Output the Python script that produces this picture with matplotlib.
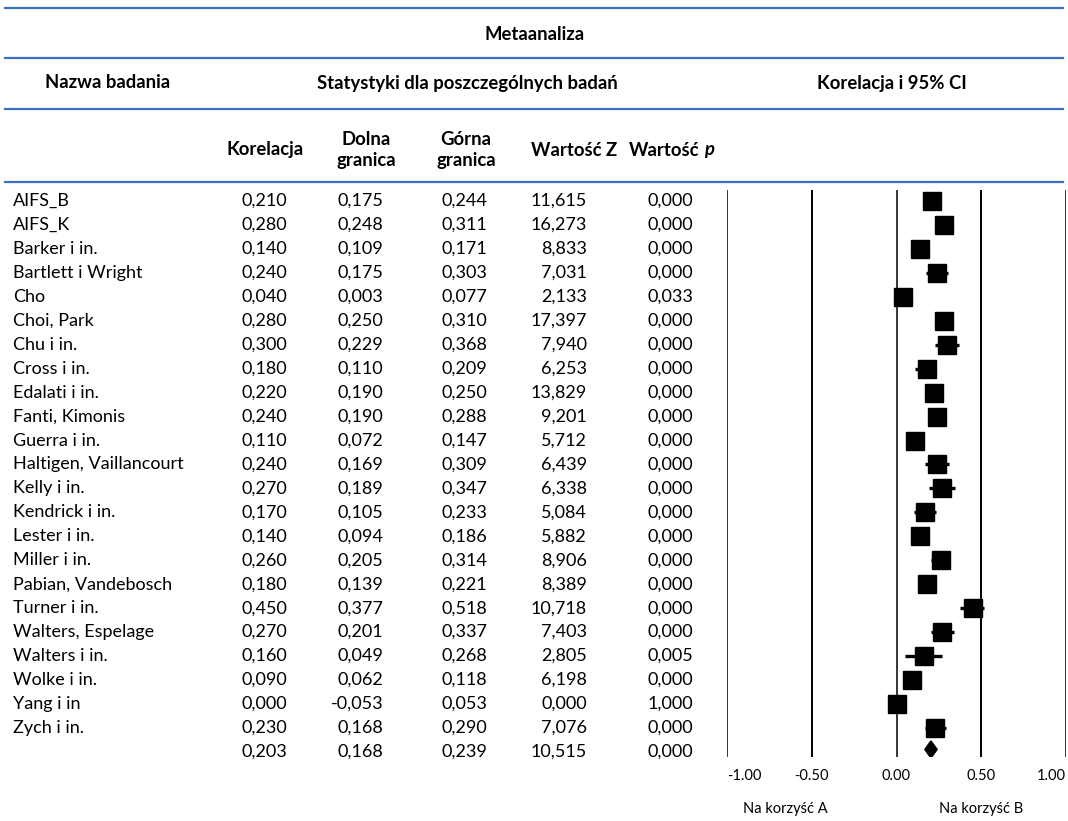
import numpy as np
import matplotlib.pyplot as plt
from matplotlib.lines import Line2D

plt.rcParams['font.family'] = ['Lato', 'DejaVu Sans']

# dane z wykresu
names = ["AIFS_B", "AIFS_K", "Barker i in.", "Bartlett i Wright", "Cho", "Choi, Park",
         "Chu i in.", "Cross i in.", "Edalati i in.", "Fanti, Kimonis", "Guerra i in.",
         "Haltigen, Vaillancourt", "Kelly i in.", "Kendrick i in.", "Lester i in.",
         "Miller i in.", "Pabian, Vandebosch", "Turner i in.", "Walters, Espelage",
         "Walters i in.", "Wolke i in.", "Yang i in", "Zych i in."]
corr = [0.210, 0.280, 0.140, 0.240, 0.040, 0.280, 0.300, 0.180, 0.220, 0.240, 0.110, 0.240,
        0.270, 0.170, 0.140, 0.260, 0.180, 0.450, 0.270, 0.160, 0.090, 0.000, 0.230]
lower = [0.175, 0.248, 0.109, 0.175, 0.003, 0.250, 0.229, 0.110, 0.190, 0.190, 0.072, 0.169,
         0.189, 0.105, 0.094, 0.205, 0.139, 0.377, 0.201, 0.049, 0.062, -0.053, 0.168]
upper = [0.244, 0.311, 0.171, 0.303, 0.077, 0.310, 0.368, 0.209, 0.250, 0.288, 0.147, 0.309,
         0.347, 0.233, 0.186, 0.314, 0.221, 0.518, 0.337, 0.268, 0.118, 0.053, 0.290]
zval = [11.615, 16.273, 8.833, 7.031, 2.133, 17.397, 7.940, 6.253, 13.829, 9.201, 5.712, 6.439,
        6.338, 5.084, 5.882, 8.906, 8.389, 10.718, 7.403, 2.805, 6.198, 0.000, 7.076]
pval = [0.000, 0.000, 0.000, 0.000, 0.033, 0.000, 0.000, 0.000, 0.000, 0.000, 0.000, 0.000,
        0.000, 0.000, 0.000, 0.000, 0.000, 0.000, 0.000, 0.005, 0.000, 1.000, 0.000]
summary = [0.203, 0.168, 0.239, 10.515, 0.000]
ticks = [-1.0, -0.5, 0.0, 0.5, 1.0]

W, H = 1068, 821
fig = plt.figure(figsize=(W / 100, H / 100), dpi=100)

BLUE = "#3d72c2"
FS = 13
HFS = 13.3
ROW0, DY = 201, 23.95


def fx(x):
    return x / W


def fy(y):
    return 1 - y / H


def fmt(v):
    return f"{v:.3f}".replace(".", ",")


# niebieskie linie naglowka
for y in [8, 58, 109, 182]:
    fig.add_artist(Line2D([fx(5), fx(1063)], [fy(y), fy(y)], color=BLUE, lw=1.6))

hdr = dict(ha="center", va="center", fontsize=HFS, fontweight="bold")
fig.text(fx(535), fy(34), "Metaanaliza", **hdr)
fig.text(fx(108), fy(83), "Nazwa badania", **hdr)
fig.text(fx(467), fy(83), "Statystyki dla poszczególnych badań", **hdr)
fig.text(fx(892), fy(83), "Korelacja i 95% CI", **hdr)
fig.text(fx(265), fy(150), "Korelacja", **hdr)
fig.text(fx(366), fy(150), "Dolna\ngranica", linespacing=1.3, **hdr)
fig.text(fx(466), fy(150), "Górna\ngranica", linespacing=1.3, **hdr)
fig.text(fx(574), fy(150), "Wartość Z", **hdr)
wp = fig.text(fx(629), fy(150), "Wartość", ha="left", va="center", fontsize=HFS,
              fontweight="bold")
fig.add_artist(plt.Annotation("p", xy=(1, 0.5), xycoords=wp, xytext=(3.5, 0),
                              textcoords="offset points", ha="left", va="center",
                              fontsize=HFS, fontweight="bold", fontstyle="italic"))

# tabela: os w pikselach (x) i wierszach (y)
tab = fig.add_axes([0, 0, 1, 1])
tab.set_xlim(0, W)
tab.set_ylim((H - ROW0) / DY, -ROW0 / DY)
tab.axis("off")

col_right = [287, 383, 487, 587, 693]
for i, name in enumerate(names):
    tab.text(13, i, name, ha="left", va="center", fontsize=FS)
    for xr, v in zip(col_right, [corr[i], lower[i], upper[i], zval[i], pval[i]]):
        tab.text(xr, i, fmt(v), ha="right", va="center", fontsize=FS)
n = len(names)
for xr, v in zip(col_right, summary):
    tab.text(xr, n, fmt(v), ha="right", va="center", fontsize=FS)

# wykres drzewkowy
top, bot = 190, 757
ax = fig.add_axes([fx(727), fy(bot), (1066 - 727) / W, (bot - top) / H])
ax.set_xlim(-1, 1)
ax.set_ylim((bot - ROW0) / DY, (top - ROW0) / DY)
for t in ticks:
    ax.axvline(t, color="black", lw=1.4 if t in (-0.5, 0.5) else 1.1, zorder=1)
rows = np.arange(n)
ax.hlines(rows, lower, upper, color="black", lw=2.4, zorder=2)
ax.plot(corr, rows, "s", color="black", markersize=13, zorder=3)
est, lo, hi = summary[0], summary[1], summary[2]
ax.fill([lo, est, hi, est], [n - 0.1, n - 0.45, n - 0.1, n + 0.25], facecolor="black",
        edgecolor="black", lw=1.2, zorder=3)
ax.set_xticks(ticks)
labels = ax.set_xticklabels([f"{t:.2f}" for t in ticks], fontsize=10.5)
labels[0].set_ha("left")
labels[-1].set_ha("right")
ax.tick_params(axis="x", length=0, pad=9)
ax.set_yticks([])
for s in ax.spines.values():
    s.set_visible(False)
fig.text(fx(785), fy(809), "Na korzyść A", ha="center", va="center", fontsize=10.5)
fig.text(fx(981), fy(809), "Na korzyść B", ha="center", va="center", fontsize=10.5)

fig.savefig("out.png", dpi=100)
